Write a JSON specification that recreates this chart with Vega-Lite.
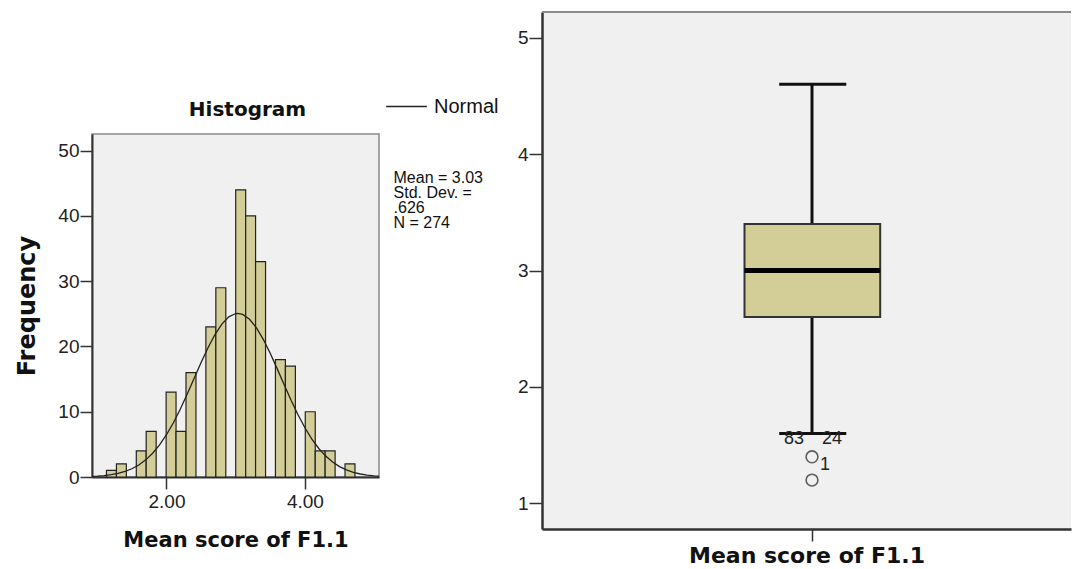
{
  "$schema": "https://vega.github.io/schema/vega-lite/v6.json",
  "background": "white",
  "padding": {"left": 15, "top": 11, "right": 0, "bottom": 0},
  "spacing": 33,
  "config": {"font": "Liberation Sans"},
  "datasets": {
    "bins": [
      {"bin_start": 1.133, "bin_end": 1.277, "count": 1},
      {"bin_start": 1.277, "bin_end": 1.420, "count": 2},
      {"bin_start": 1.564, "bin_end": 1.707, "count": 4},
      {"bin_start": 1.707, "bin_end": 1.851, "count": 7},
      {"bin_start": 1.995, "bin_end": 2.138, "count": 13},
      {"bin_start": 2.138, "bin_end": 2.282, "count": 7},
      {"bin_start": 2.282, "bin_end": 2.426, "count": 16},
      {"bin_start": 2.569, "bin_end": 2.713, "count": 23},
      {"bin_start": 2.713, "bin_end": 2.857, "count": 29},
      {"bin_start": 3.000, "bin_end": 3.144, "count": 44},
      {"bin_start": 3.144, "bin_end": 3.287, "count": 40},
      {"bin_start": 3.287, "bin_end": 3.431, "count": 33},
      {"bin_start": 3.574, "bin_end": 3.718, "count": 18},
      {"bin_start": 3.718, "bin_end": 3.862, "count": 17},
      {"bin_start": 4.005, "bin_end": 4.149, "count": 10},
      {"bin_start": 4.149, "bin_end": 4.292, "count": 4},
      {"bin_start": 4.292, "bin_end": 4.436, "count": 4},
      {"bin_start": 4.579, "bin_end": 4.723, "count": 2}
    ],
    "curve": [
      {"x": 0.9, "density": 0.077}, {"x": 1.0, "density": 0.131}, {"x": 1.1, "density": 0.217},
      {"x": 1.2, "density": 0.350}, {"x": 1.3, "density": 0.551}, {"x": 1.4, "density": 0.845},
      {"x": 1.5, "density": 1.265}, {"x": 1.6, "density": 1.845}, {"x": 1.7, "density": 2.625},
      {"x": 1.8, "density": 3.640}, {"x": 1.9, "density": 4.918}, {"x": 2.0, "density": 6.478},
      {"x": 2.1, "density": 8.319}, {"x": 2.2, "density": 10.41}, {"x": 2.3, "density": 12.71},
      {"x": 2.4, "density": 15.12}, {"x": 2.5, "density": 17.53}, {"x": 2.6, "density": 19.81},
      {"x": 2.7, "density": 21.83}, {"x": 2.8, "density": 23.44}, {"x": 2.9, "density": 24.55},
      {"x": 3.0, "density": 25.05}, {"x": 3.03, "density": 25.08}, {"x": 3.1, "density": 24.92},
      {"x": 3.2, "density": 24.17}, {"x": 3.3, "density": 22.85}, {"x": 3.4, "density": 21.06},
      {"x": 3.5, "density": 18.92}, {"x": 3.6, "density": 16.57}, {"x": 3.7, "density": 14.15},
      {"x": 3.8, "density": 11.77}, {"x": 3.9, "density": 9.548}, {"x": 4.0, "density": 7.549},
      {"x": 4.1, "density": 5.821}, {"x": 4.2, "density": 4.372}, {"x": 4.3, "density": 3.203},
      {"x": 4.4, "density": 2.287}, {"x": 4.5, "density": 1.592}, {"x": 4.6, "density": 1.080},
      {"x": 4.7, "density": 0.714}, {"x": 4.8, "density": 0.461}, {"x": 4.9, "density": 0.289},
      {"x": 5.0, "density": 0.177}, {"x": 5.1, "density": 0.106}
    ],
    "stats": [{"mean": 3.03, "sd": 0.626, "n": 274}],
    "box": [{"lower": 1.6, "q1": 2.6, "median": 3.0, "q3": 3.4, "upper": 4.6}],
    "outliers": [{"value": 1.4, "case": "1"}, {"value": 1.2, "case": ""}],
    "caseLeft": [{"value": 1.6, "case": "83"}],
    "caseRight": [{"value": 1.6, "case": "24"}]
  },
  "hconcat": [
    {
      "spacing": 0,
      "vconcat": [
        {
          "width": 287,
          "height": 87,
          "data": {"values": []},
          "mark": {"type": "point", "opacity": 0},
          "encoding": {},
          "view": {"stroke": null, "fill": null}
        },
        {
          "width": 287,
          "height": 343,
          "title": {"text": "Histogram", "font": "DejaVu Sans", "fontWeight": "bold", "fontSize": 20, "color": "#111", "offset": 14, "dx": 12, "anchor": "middle"},
          "view": {"fill": "#f0f0f0", "stroke": "#8a8a8a", "strokeWidth": 1.5},
          "layer": [
            {
              "data": {"name": "bins"},
              "mark": {"type": "bar", "fill": "#d3ce97", "stroke": "#222", "strokeWidth": 1.2},
              "encoding": {
                "x": {"field": "bin_start", "type": "quantitative",
                  "scale": {"domain": [0.924, 5.07], "nice": false, "zero": false},
                  "axis": {"values": [2, 4], "format": ".2f", "title": "Mean score of F1.1",
                    "titleFont": "DejaVu Sans", "titleFontWeight": "bold", "titleFontSize": 21, "titleColor": "#111", "titlePadding": 18,
                    "labelFont": "Liberation Sans", "labelFontSize": 19, "labelColor": "#222", "labelPadding": 3,
                    "tickSize": 12, "tickColor": "#333", "tickWidth": 1.5, "domainColor": "#333", "domainWidth": 2, "grid": false}},
                "x2": {"field": "bin_end"},
                "y": {"field": "count", "type": "quantitative",
                  "scale": {"domain": [0, 52.56], "nice": false},
                  "axis": {"values": [0, 10, 20, 30, 40, 50], "title": "Frequency",
                    "titleFont": "DejaVu Sans", "titleFontWeight": "bold", "titleFontSize": 24, "titleColor": "#111", "titlePadding": 18,
                    "labelFont": "Liberation Sans", "labelFontSize": 19, "labelColor": "#222", "labelPadding": 1,
                    "tickSize": 12, "tickColor": "#333", "tickWidth": 1.5, "domainColor": "#333", "domainWidth": 2, "grid": false}},
                "y2": {"datum": 0}
              }
            },
            {
              "data": {"name": "curve"},
              "mark": {"type": "line", "strokeWidth": 1.3, "clip": true},
              "encoding": {
                "x": {"field": "x", "type": "quantitative"},
                "y": {"field": "density", "type": "quantitative"},
                "stroke": {"datum": "Normal", "type": "nominal", "scale": {"range": ["#222222"]},
                  "legend": {"title": null, "orient": "none", "legendX": 293, "legendY": 73, "symbolType": "stroke",
                    "symbolSize": 1650, "symbolStrokeWidth": 1.5, "symbolStrokeColor": "#222", "labelFontSize": 20,
                    "labelColor": "#111", "labelFont": "Liberation Sans", "labelOffset": 6, "padding": 0}}
              }
            },
            {
              "data": {"name": "stats"},
              "mark": {"type": "text", "align": "left", "baseline": "top", "fontSize": 16, "lineHeight": 15, "color": "#111", "font": "Liberation Sans"},
              "encoding": {
                "x": {"datum": 5.28, "type": "quantitative"},
                "y": {"datum": 47.1, "type": "quantitative"},
                "text": {"value": ["Mean = 3.03", "Std. Dev. =", ".626", "N = 274"]}
              }
            }
          ]
        }
      ]
    },
    {
      "width": 529,
      "height": 517,
      "view": {"fill": "#f0f0f0", "stroke": null},
      "data": {"name": "box"},
      "layer": [
        {
          "mark": {"type": "rule", "color": "#8a8a8a", "strokeWidth": 2},
          "encoding": {
            "y": {"datum": 5.22, "type": "quantitative",
              "scale": {"domain": [0.78, 5.22], "nice": false, "zero": false},
              "axis": {"values": [1, 2, 3, 4, 5], "format": "d", "title": null,
                "labelFont": "Liberation Sans", "labelFontSize": 19, "labelColor": "#222", "labelPadding": 1,
                "tickSize": 13, "tickColor": "#333", "tickWidth": 1.5, "domainColor": "#333", "domainWidth": 2.5, "grid": false}}
          }
        },
        {
          "mark": {"type": "rule", "color": "#111", "strokeWidth": 3},
          "encoding": {
            "x": {"datum": 0.5104, "type": "quantitative",
              "scale": {"domain": [0, 1], "nice": false, "zero": false},
              "axis": {"values": [0.5104], "labels": false, "title": "Mean score of F1.1",
                "titleFont": "DejaVu Sans", "titleFontWeight": "bold", "titleFontSize": 22, "titleColor": "#111", "titlePadding": 4,
                "tickSize": 12, "tickColor": "#333", "tickWidth": 1.5, "domainColor": "#333", "domainWidth": 2.5, "grid": false}},
            "y": {"field": "lower", "type": "quantitative"},
            "y2": {"field": "q1"}
          }
        },
        {
          "mark": {"type": "rule", "color": "#111", "strokeWidth": 3},
          "encoding": {
            "x": {"datum": 0.5104, "type": "quantitative"},
            "y": {"field": "q3", "type": "quantitative"},
            "y2": {"field": "upper"}
          }
        },
        {
          "mark": {"type": "rule", "color": "#111", "strokeWidth": 3},
          "encoding": {
            "x": {"datum": 0.4484, "type": "quantitative"},
            "x2": {"datum": 0.5752},
            "y": {"field": "upper", "type": "quantitative"}
          }
        },
        {
          "mark": {"type": "rule", "color": "#111", "strokeWidth": 3},
          "encoding": {
            "x": {"datum": 0.4484, "type": "quantitative"},
            "x2": {"datum": 0.5752},
            "y": {"field": "lower", "type": "quantitative"}
          }
        },
        {
          "mark": {"type": "bar", "fill": "#d3ce97", "stroke": "#333", "strokeWidth": 2},
          "encoding": {
            "x": {"datum": 0.3828, "type": "quantitative"},
            "x2": {"datum": 0.6393},
            "y": {"field": "q1", "type": "quantitative"},
            "y2": {"field": "q3"}
          }
        },
        {
          "mark": {"type": "rule", "color": "#000", "strokeWidth": 5},
          "encoding": {
            "x": {"datum": 0.3828, "type": "quantitative"},
            "x2": {"datum": 0.6393},
            "y": {"field": "median", "type": "quantitative"}
          }
        },
        {
          "data": {"name": "outliers"},
          "mark": {"type": "point", "shape": "circle", "size": 140, "filled": false, "stroke": "#222", "strokeWidth": 1.6},
          "encoding": {
            "x": {"datum": 0.5104, "type": "quantitative"},
            "y": {"field": "value", "type": "quantitative"}
          }
        },
        {
          "data": {"name": "outliers"},
          "mark": {"type": "text", "dx": 13, "dy": 8, "fontSize": 18, "color": "#222", "font": "Liberation Sans"},
          "encoding": {
            "x": {"datum": 0.5104, "type": "quantitative"},
            "y": {"field": "value", "type": "quantitative"},
            "text": {"field": "case", "type": "nominal"}
          }
        },
        {
          "data": {"name": "caseLeft"},
          "mark": {"type": "text", "dx": -18, "dy": 5, "fontSize": 18, "color": "#222", "font": "Liberation Sans"},
          "encoding": {
            "x": {"datum": 0.5104, "type": "quantitative"},
            "y": {"field": "value", "type": "quantitative"},
            "text": {"field": "case", "type": "nominal"}
          }
        },
        {
          "data": {"name": "caseRight"},
          "mark": {"type": "text", "dx": 20, "dy": 5, "fontSize": 18, "color": "#222", "font": "Liberation Sans"},
          "encoding": {
            "x": {"datum": 0.5104, "type": "quantitative"},
            "y": {"field": "value", "type": "quantitative"},
            "text": {"field": "case", "type": "nominal"}
          }
        }
      ]
    }
  ]
}
